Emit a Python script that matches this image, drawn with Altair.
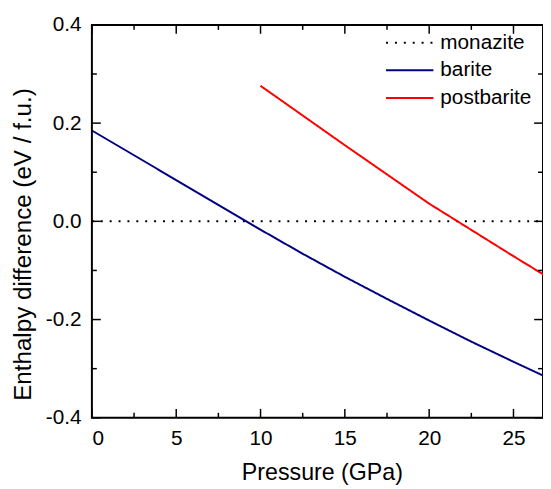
import altair as alt
import pandas as pd

# ---- data ----
series_names = ["monazite", "barite", "postbarite"]
series_colors = ["#000000", "#000080", "#ff0000"]

mon_x = [0, 27]
mon_y = [0.0, 0.0]
bar_x = [0, 10, 12.5, 15, 17.5, 20, 22.5, 25, 27]
bar_y = [0.185, -0.017, -0.066, -0.113, -0.158, -0.202, -0.245, -0.286, -0.318]
post_x = [10, 15, 20, 25, 27]
post_y = [0.276, 0.155, 0.036, -0.071, -0.113]

x_major = [0, 5, 10, 15, 20, 25]
x_minor = [2.5, 7.5, 12.5, 17.5, 22.5]
y_major = [-0.4, -0.2, 0.0, 0.2, 0.4]
y_minor = [-0.3, -0.1, 0.1, 0.3]

x_title = "Pressure (GPa)"
y_title = "Enthalpy difference (eV / f.u.)"

# ---- tables ----
rows = []
for name, xs, ys in [("monazite", mon_x, mon_y), ("barite", bar_x, bar_y), ("postbarite", post_x, post_y)]:
    for i, (a, b) in enumerate(zip(xs, ys)):
        rows.append({"series": name, "x": a, "y": b, "order": i})
df = pd.DataFrame(rows)

W, H = 457, 398
FONT = "Liberation Sans"

x_enc = alt.X(
    "x:Q",
    scale=alt.Scale(domain=[0, 26.75], nice=False, zero=False),
    axis=alt.Axis(
        title=x_title, values=x_major, format="d", grid=False, ticks=False, tickSize=0,
        domain=False, labelPadding=10, labelFontSize=21, labelFont=FONT, labelColor="black",
        titleFontSize=23.5, titleFont=FONT, titleFontWeight="normal", titleColor="black",
        titleX=233, titleY=63, titleBaseline="alphabetic", titleAlign="center",
    ),
)
y_enc = alt.Y(
    "y:Q",
    scale=alt.Scale(domain=[-0.4, 0.4], nice=False, zero=False),
    axis=alt.Axis(
        title=y_title, values=y_major, grid=False, ticks=False, tickSize=0, domain=False,
        labelExpr="replace(format(datum.value, '.1f'), '\u2212', '-')",
        labelPadding=11, labelFontSize=21, labelFont=FONT, labelColor="black",
        titleFontSize=24.5, titleFont=FONT, titleFontWeight="normal", titleColor="black",
        titleAngle=-90, titleX=-69, titleY=222, titleAlign="center", titleBaseline="middle",
    ),
)

lines = alt.Chart(df).mark_line(clip=True, strokeWidth=2).encode(
    x=x_enc,
    y=y_enc,
    color=alt.Color("series:N", scale=alt.Scale(domain=series_names, range=series_colors),
                    legend=alt.Legend(title=None)),
    strokeDash=alt.StrokeDash("series:N",
                              scale=alt.Scale(domain=series_names, range=[[2, 7], [1, 0], [1, 0]]),
                              legend=alt.Legend(title=None)),
    order="order:Q",
)

xmaj = pd.DataFrame({"x": x_major})
xmin = pd.DataFrame({"x": x_minor})
ymaj = pd.DataFrame({"y": y_major})
ymin = pd.DataFrame({"y": y_minor})

tick_style = dict(color="black", strokeWidth=1.5)
ticks = [
    alt.Chart(xmaj).mark_rule(**tick_style).encode(x=x_enc, y=alt.value(H), y2=alt.value(H - 9)),
    alt.Chart(xmaj).mark_rule(**tick_style).encode(x=x_enc, y=alt.value(0), y2=alt.value(9)),
    alt.Chart(xmin).mark_rule(**tick_style).encode(x=x_enc, y=alt.value(H), y2=alt.value(H - 5)),
    alt.Chart(xmin).mark_rule(**tick_style).encode(x=x_enc, y=alt.value(0), y2=alt.value(5)),
    alt.Chart(ymaj).mark_rule(**tick_style).encode(y=y_enc, x=alt.value(0), x2=alt.value(9)),
    alt.Chart(ymaj).mark_rule(**tick_style).encode(y=y_enc, x=alt.value(W), x2=alt.value(W - 9)),
    alt.Chart(ymin).mark_rule(**tick_style).encode(y=y_enc, x=alt.value(0), x2=alt.value(5)),
    alt.Chart(ymin).mark_rule(**tick_style).encode(y=y_enc, x=alt.value(W), x2=alt.value(W - 5)),
]

chart = alt.layer(lines, *ticks).properties(
    width=W, height=H,
    autosize=alt.AutoSizeParams(type="none"),
    padding={"left": 85, "top": 14, "right": 0, "bottom": 66},
).configure_view(
    stroke="black", strokeWidth=2,
).configure_legend(
    orient="none", legendX=297, legendY=8, padding=0,
    labelFontSize=21, labelFont=FONT, labelColor="black", labelOffset=6,
    symbolType="stroke", symbolSize=2304, symbolStrokeWidth=2,
    clipHeight=20, rowPadding=7,
)

chart.save("out.html", embed_options={"renderer": "svg", "actions": False})
